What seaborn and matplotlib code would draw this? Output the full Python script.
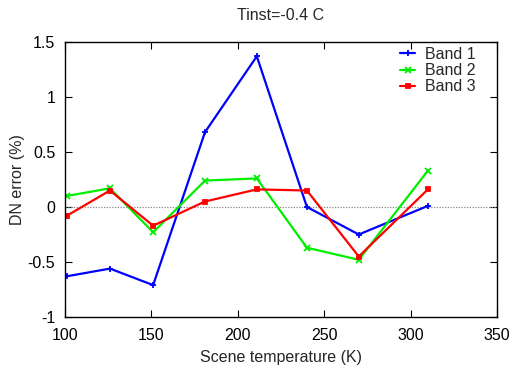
import matplotlib
matplotlib.use("Agg")
import matplotlib.pyplot as plt
import seaborn as sns
import pandas as pd

temps = [101, 126, 151, 181, 211, 240, 270, 310]
band1 = [-0.63, -0.56, -0.71, 0.68, 1.37, 0.00, -0.25, 0.01]
band2 = [0.10, 0.17, -0.23, 0.24, 0.26, -0.37, -0.48, 0.33]
band3 = [-0.08, 0.15, -0.17, 0.05, 0.16, 0.15, -0.45, 0.16]
series_names = ["Band 1", "Band 2", "Band 3"]
colors = ["#0000ff", "#00ee00", "#ff0000"]
markers = ["+", "x", "s"]
xticks = [100, 150, 200, 250, 300, 350]
yticks = [-1, -0.5, 0, 0.5, 1, 1.5]
ytick_labels = ["-1", "-0.5", "0", "0.5", "1", "1.5"]

sns.set_style("ticks")
plt.rcParams['font.family'] = ['Liberation Sans', 'DejaVu Sans']

fig = plt.figure(figsize=(5.18, 3.66), dpi=100)
ax = fig.add_axes([65/518, 1-317/366, (497-65)/518, (317-42)/366])

rows = []
for name, vals in zip(series_names, [band1, band2, band3]):
    for t, v in zip(temps, vals):
        rows.append({"temp": t, "err": v, "band": name})
df = pd.DataFrame(rows)

ax.axhline(0, color="#888888", lw=0.9, ls=(0, (1, 1.2)), zorder=1)

for name, c, m in zip(series_names, colors, markers):
    sub = df[df.band == name]
    sns.lineplot(data=sub, x="temp", y="err", ax=ax, color=c, lw=1.6,
                 marker=m, markersize=5 if m != "s" else 3.5,
                 markeredgewidth=1.3, markeredgecolor=c, label=name,
                 estimator=None, sort=False)

ax.set_xlim(100, 350)
ax.set_ylim(-1, 1.5)
ax.set_xticks(xticks)
ax.set_yticks(yticks)
ax.set_yticklabels(ytick_labels)
ax.tick_params(direction="in", length=5, width=0.8, top=True, right=True,
               labelsize=11.5, colors="black")
ax.tick_params(axis="x", pad=8)
ax.tick_params(axis="y", pad=7)
for s in ax.spines.values():
    s.set_linewidth(1.0)
    s.set_color("black")
ax.set_xlabel("Scene temperature (K)", fontsize=11.5, labelpad=5)
ax.set_ylabel("DN error (%)", fontsize=11.5, labelpad=2)
ax.set_title("Tinst=-0.4 C", fontsize=11.5, pad=16)

leg = ax.legend(loc="upper right", bbox_to_anchor=(0.965, 1.005),
                frameon=False, fontsize=11.5,
                handlelength=0.95, handletextpad=0.6, labelspacing=0.07,
                borderaxespad=0.0, markerfirst=True)

fig.savefig("out.png", dpi=100)
